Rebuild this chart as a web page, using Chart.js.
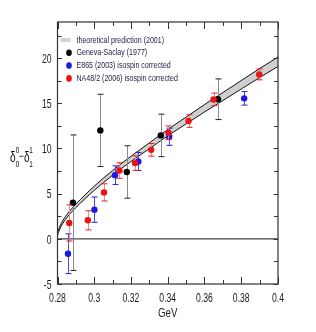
<!DOCTYPE html>
<html>
<head>
<meta charset="utf-8">
<script src="https://cdn.jsdelivr.net/npm/chart.js@4"></script>
<style>
html, body { margin: 0; padding: 0; background: #fff; }
canvas { display: block; }
</style>
</head>
<body>
<canvas id="phase" width="316" height="332"></canvas>
<script>
const FONT = "'Liberation Sans', Arial, sans-serif";

// axis ticks
const xTicks = [0.28, 0.30, 0.32, 0.34, 0.36, 0.38, 0.40];
const xMinor = [0.29, 0.31, 0.33, 0.35, 0.37, 0.39];
const yTicks = [-5, 0, 5, 10, 15, 20];
const yMinor = [-2.5, 2.5, 7.5, 12.5, 17.5, 22.5];

// theory band
const bandX    = [0.2797, 0.2800, 0.2810, 0.2820, 0.2835, 0.2850, 0.2875, 0.2900, 0.2950, 0.3000, 0.3100, 0.3200, 0.3300, 0.3400, 0.3500, 0.3600, 0.3700, 0.3800, 0.3900, 0.4000];
const bandLow  = [-0.10, 0.33, 0.96, 1.40, 1.89, 2.33, 2.92, 3.46, 4.44, 5.37, 7.04, 8.56, 9.98, 11.40, 12.72, 14.04, 15.31, 16.58, 17.85, 19.08];
const bandHigh = [0.10, 0.57, 1.24, 1.70, 2.21, 2.67, 3.28, 3.84, 4.86, 5.83, 7.56, 9.14, 10.62, 12.10, 13.48, 14.86, 16.19, 17.52, 18.85, 20.12];

// Geneva-Saclay
const gsX   = [0.2884, 0.3033, 0.3177, 0.3362, 0.3673];
const gsY   = [4.0, 12.0, 7.4, 11.45, 15.45];
const gsErr = [7.5, 4.0, 2.9, 2.35, 2.25];

// E865
const e865X   = [0.2857, 0.3001, 0.3113, 0.3240, 0.3408, 0.3816];
const e865Y   = [-1.65, 3.23, 7.05, 8.56, 11.3, 15.55];
const e865Err = [2.2, 1.4, 1.03, 1.0, 0.95, 0.75];

// NA48/2
const naX   = [0.2864, 0.2965, 0.3053, 0.3137, 0.3222, 0.3310, 0.3404, 0.3513, 0.3649, 0.3898];
const naY   = [1.76, 2.05, 5.14, 7.56, 8.38, 9.85, 11.75, 13.04, 15.43, 18.2];
const naErr = [2.0, 1.06, 0.95, 0.86, 0.8, 0.7, 0.75, 0.7, 0.7, 0.6];

const seriesNames = ['theoretical prediction (2001)', 'Geneva-Saclay (1977)', 'E865 (2003) isospin corrected', 'NA48/2 (2006) isospin corrected'];
const xTitle = 'GeV';

const pts = (xs, ys) => xs.map((x, i) => ({ x: x, y: ys[i] }));

// condensed text (the original uses a narrow face)
function narrowText(ctx, text, x, y, align, sx) {
    ctx.save();
    ctx.translate(x, y);
    ctx.scale(sx, 1);
    ctx.textAlign = align;
    ctx.fillText(text, 0, 0);
    ctx.restore();
}

// error bars, drawn just under each point set
const errorBars = {
    id: 'errorBars',
    beforeDatasetDraw(chart, args) {
        const ds = chart.data.datasets[args.index];
        if (!ds.errors) return;
        const ctx = chart.ctx, xs = chart.scales.x, ys = chart.scales.y;
        ctx.save();
        ds.data.forEach((p, i) => {
            const px = Math.round(xs.getPixelForValue(p.x)) + 0.5;
            const top = ys.getPixelForValue(p.y + ds.errors[i]);
            const bot = ys.getPixelForValue(p.y - ds.errors[i]);
            ctx.lineWidth = 1;
            ctx.strokeStyle = ds.barColor;
            ctx.beginPath();
            ctx.moveTo(px, top); ctx.lineTo(px, bot);
            ctx.stroke();
            ctx.strokeStyle = ds.capColor;
            ctx.beginPath();
            ctx.moveTo(px - 3, top); ctx.lineTo(px + 3, top);
            ctx.moveTo(px - 3, bot); ctx.lineTo(px + 3, bot);
            ctx.stroke();
        });
        ctx.restore();
    }
};

// zero line, frame, inward ticks and tick labels
const frame = {
    id: 'frame',
    beforeDatasetsDraw(chart) {
        const ctx = chart.ctx, a = chart.chartArea;
        const y0 = chart.scales.y.getPixelForValue(0);
        ctx.save();
        ctx.strokeStyle = '#444';
        ctx.lineWidth = 1.3;
        ctx.beginPath();
        ctx.moveTo(a.left, y0); ctx.lineTo(a.right, y0);
        ctx.stroke();
        ctx.restore();
    },
    afterDatasetsDraw(chart) {
        const ctx = chart.ctx, a = chart.chartArea;
        const xs = chart.scales.x, ys = chart.scales.y;
        ctx.save();
        ctx.strokeStyle = '#333';
        ctx.lineWidth = 1.2;
        ctx.strokeRect(a.left, a.top, a.right - a.left, a.bottom - a.top);
        ctx.lineWidth = 1;
        ctx.beginPath();
        const xt = (v, len) => {
            const px = Math.round(xs.getPixelForValue(v)) + 0.5;
            ctx.moveTo(px, a.bottom); ctx.lineTo(px, a.bottom - len);
            ctx.moveTo(px, a.top); ctx.lineTo(px, a.top + len);
        };
        const yt = (v, len) => {
            const py = Math.round(ys.getPixelForValue(v)) + 0.5;
            ctx.moveTo(a.left, py); ctx.lineTo(a.left + len, py);
            ctx.moveTo(a.right, py); ctx.lineTo(a.right - len, py);
        };
        xTicks.forEach(v => xt(v, 7));
        xMinor.forEach(v => xt(v, 4));
        yTicks.forEach(v => yt(v, 4.5));
        yMinor.forEach(v => yt(v, 4));
        ctx.stroke();

        ctx.fillStyle = '#1a1a1a';
        ctx.textBaseline = 'alphabetic';
        ctx.font = '13.5px ' + FONT;
        xTicks.forEach(v => {
            narrowText(ctx, String(+v.toFixed(2)), xs.getPixelForValue(v), a.bottom + 17.7, 'center', 0.64);
        });
        yTicks.forEach(v => {
            narrowText(ctx, String(v), a.left - 6, ys.getPixelForValue(v) + 4.8, 'right', 0.64);
        });
        ctx.font = '13.5px ' + FONT;
        narrowText(ctx, xTitle, (a.left + a.right) / 2, a.bottom + 32.5, 'center', 0.72);
        ctx.restore();
    }
};

// legend in the top-left corner, and the y label with indices
const labels = {
    id: 'labels',
    afterDraw(chart) {
        const ctx = chart.ctx, a = chart.chartArea;
        ctx.save();
        const colors = [null, '#000', '#1a1ae6', '#ee1111'];
        ctx.font = '9.3px ' + FONT;
        ctx.textBaseline = 'middle';
        seriesNames.forEach((name, i) => {
            const y = a.top + 18 + i * 12.8;
            if (i === 0) {
                ctx.strokeStyle = '#d2d2d2';
                ctx.lineWidth = 4;
                ctx.beginPath();
                ctx.moveTo(a.left + 3, y); ctx.lineTo(a.left + 13, y);
                ctx.stroke();
            } else {
                ctx.fillStyle = colors[i];
                ctx.beginPath();
                ctx.ellipse(a.left + 11.5, y, 2.8, 3.3, 0, 0, Math.PI * 2);
                ctx.fill();
            }
            ctx.fillStyle = '#1c1c40';
            narrowText(ctx, name, a.left + 19, y, 'left', 0.76);
        });

        ctx.fillStyle = '#111';
        ctx.textBaseline = 'alphabetic';
        ctx.font = '14px ' + FONT;
        narrowText(ctx, 'δ', 10, 161.7, 'left', 0.72);
        narrowText(ctx, 'δ', 24, 161.7, 'left', 0.72);
        ctx.font = '12px ' + FONT;
        narrowText(ctx, '−', 18.8, 160, 'left', 0.7);
        ctx.font = '8.5px ' + FONT;
        narrowText(ctx, '0', 15.8, 152.7, 'left', 0.75);
        narrowText(ctx, '0', 15.8, 166.7, 'left', 0.75);
        narrowText(ctx, '1', 29.3, 152.7, 'left', 0.75);
        narrowText(ctx, '1', 29.3, 166.7, 'left', 0.75);
        ctx.restore();
    }
};

new Chart(document.getElementById('phase').getContext('2d'), {
    type: 'line',
    data: {
        datasets: [
            {
                label: seriesNames[3], data: pts(naX, naY), showLine: false,
                pointRadius: 3.2, pointBackgroundColor: '#ee1111', pointBorderWidth: 0,
                errors: naErr, barColor: '#f08a8a', capColor: '#e81c1c'
            },
            {
                label: seriesNames[2], data: pts(e865X, e865Y), showLine: false,
                pointRadius: 3.2, pointBackgroundColor: '#1a1ae6', pointBorderWidth: 0,
                errors: e865Err, barColor: '#4a4ae8', capColor: '#2222dd'
            },
            {
                label: seriesNames[1], data: pts(gsX, gsY), showLine: false,
                pointRadius: 3.2, pointBackgroundColor: '#000', pointBorderWidth: 0,
                errors: gsErr, barColor: '#8a8a8a', capColor: '#222'
            },
            {
                label: 'band low', data: pts(bandX, bandLow),
                borderColor: '#111', borderWidth: 1, pointRadius: 0,
                cubicInterpolationMode: 'monotone', fill: false
            },
            {
                label: seriesNames[0], data: pts(bandX, bandHigh),
                borderColor: '#111', borderWidth: 1, pointRadius: 0,
                cubicInterpolationMode: 'monotone', fill: '-1', backgroundColor: '#cfcfcf'
            }
        ]
    },
    options: {
        responsive: false,
        animation: false,
        events: [],
        layout: { padding: { top: 22, right: 38, bottom: 0, left: 0 } },
        plugins: { legend: { display: false }, tooltip: { enabled: false } },
        scales: {
            x: {
                type: 'linear', min: 0.28, max: 0.40,
                afterBuildTicks: s => { s.ticks = xTicks.map(v => ({ value: v })); },
                afterFit: s => { s.height = 48; },
                grid: { display: false, drawTicks: false },
                border: { display: false },
                ticks: { display: false }
            },
            y: {
                type: 'linear', min: -5, max: 24,
                afterBuildTicks: s => { s.ticks = yTicks.map(v => ({ value: v })); },
                afterFit: s => { s.width = 57.5; },
                grid: { display: false, drawTicks: false },
                border: { display: false },
                ticks: { display: false }
            }
        }
    },
    plugins: [errorBars, frame, labels]
});
</script>
</body>
</html>
